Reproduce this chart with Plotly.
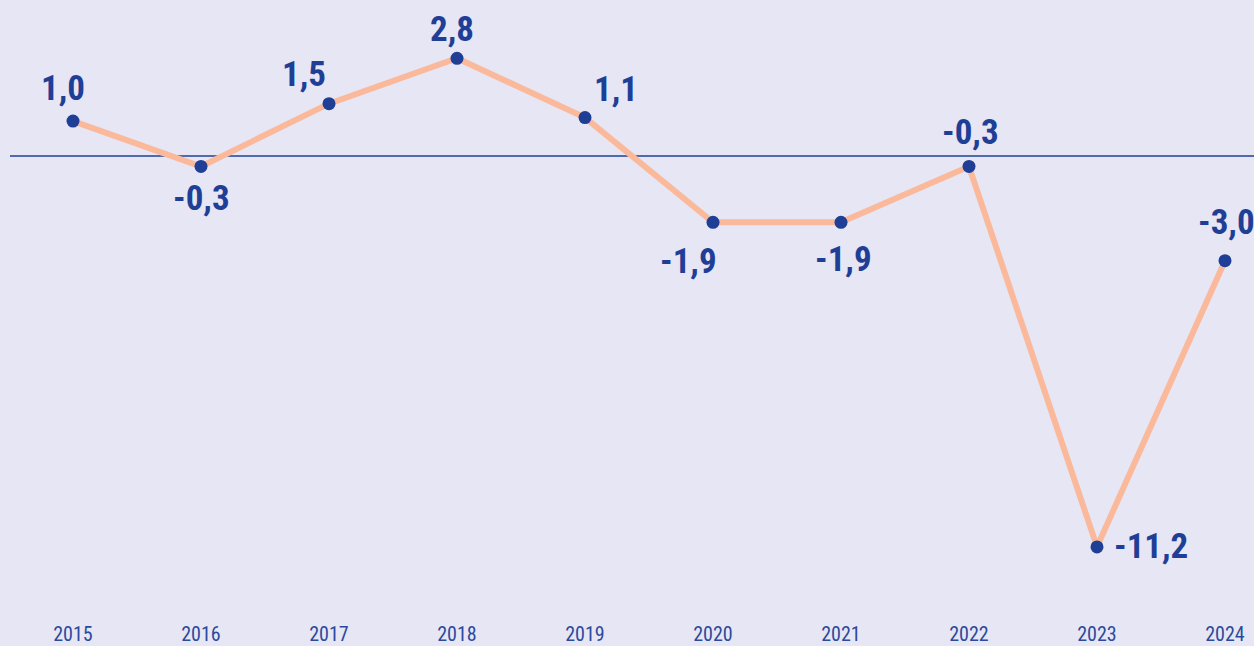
import plotly.graph_objects as go

# Données
years = [2015, 2016, 2017, 2018, 2019, 2020, 2021, 2022, 2023, 2024]
values = [1.0, -0.3, 1.5, 2.8, 1.1, -1.9, -1.9, -0.3, -11.2, -3.0]
labels = ["1,0", "-0,3", "1,5", "2,8", "1,1", "-1,9", "-1,9", "-0,3", "-11,2", "-3,0"]
tick_text = [str(y) for y in years]

# décalages des étiquettes (px)
x_shifts = [-10, 0, -25, -5, 31, -25, 2, 1, 54, 1]
y_shifts = [33, -32, 29, 29, 28, -39, -37, 34, 0, 38]

BG = "#e7e6f4"
BLUE = "#1f3f96"
FONT = "Liberation Sans Narrow, Roboto Condensed, Arial Narrow, sans-serif"

fig = go.Figure()

fig.add_trace(go.Scatter(
    x=years, y=values,
    mode="lines+markers",
    line=dict(color="#fbb99b", width=6),
    marker=dict(color=BLUE, size=13),
    cliponaxis=False,
    hoverinfo="skip",
))

for x, y, t, dx, dy in zip(years, values, labels, x_shifts, y_shifts):
    fig.add_annotation(
        x=x, y=y, text="<b>" + t + "</b>", showarrow=False,
        xshift=dx, yshift=dy,
        font=dict(family=FONT, size=35, color=BLUE),
    )

# ligne du zéro
fig.add_shape(
    type="line", xref="paper", yref="y",
    x0=10 / 1254, x1=1, y0=0, y1=0,
    line=dict(color=BLUE, width=1.5),
    layer="below",
)

fig.update_layout(
    width=1254, height=646,
    paper_bgcolor=BG, plot_bgcolor=BG,
    margin=dict(l=0, r=0, t=0, b=26),
    showlegend=False,
    xaxis=dict(
        range=[2015 - 73 / 128, 2015 + 1181 / 128],
        tickvals=years, ticktext=tick_text,
        showgrid=False, zeroline=False, showline=False,
        automargin=False,
        ticks="", tickfont=dict(family=FONT, size=20, color="#2b4a9e"),
    ),
    yaxis=dict(
        range=[-(620 - 156) / 34.9, 156 / 34.9],
        showgrid=False, zeroline=False, showline=False,
        showticklabels=False, automargin=False,
    ),
)

# enlever la marge par défaut de la page
fig.write_html("out.html", config={"displayModeBar": False},
               post_script="document.body.style.margin='0';")
